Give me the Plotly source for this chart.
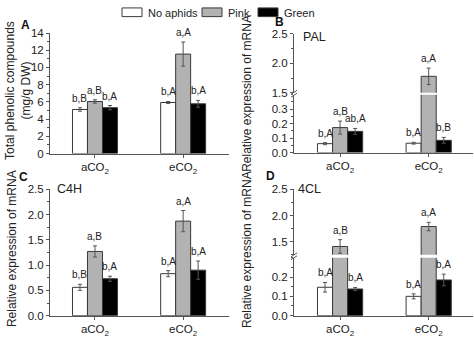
import plotly.graph_objects as go

W, H = 474, 339

# ---- data ----
groups = ["aCO<sub>2</sub>", "eCO<sub>2</sub>"]
series = ["No aphids", "Pink", "Green"]

phenolic = {"No aphids": [5.12, 5.93], "Pink": [6.05, 11.55], "Green": [5.33, 5.78]}
phenolic_err = {"No aphids": [0.2, 0.12], "Pink": [0.2, 1.4], "Green": [0.25, 0.4]}
phenolic_lbl = {"No aphids": ["b,B", "b,A"], "Pink": ["a,B", "a,A"], "Green": ["b,A", "b,A"]}

pal = {"No aphids": [0.062, 0.065], "Pink": [0.173, 1.78], "Green": [0.147, 0.085]}
pal_err = {"No aphids": [0.007, 0.006], "Pink": [0.045, 0.14], "Green": [0.02, 0.02]}
pal_lbl = {"No aphids": ["b,A", "b,A"], "Pink": ["a,B", "a,A"], "Green": ["ab,A", "b,B"]}

c4h = {"No aphids": [0.56, 0.83], "Pink": [1.27, 1.87], "Green": [0.73, 0.90]}
c4h_err = {"No aphids": [0.06, 0.06], "Pink": [0.11, 0.21], "Green": [0.05, 0.18]}
c4h_lbl = {"No aphids": ["b,B", "b,A"], "Pink": ["a,B", "a,A"], "Green": ["b,A", "b,A"]}

cl4 = {"No aphids": [0.147, 0.100], "Pink": [1.41, 1.79], "Green": [0.138, 0.185]}
cl4_err = {"No aphids": [0.025, 0.013], "Pink": [0.13, 0.08], "Green": [0.008, 0.03]}
cl4_lbl = {"No aphids": ["b,A", "b,A"], "Pink": ["a,B", "a,A"], "Green": ["b,A", "b,A"]}

# ---- styles ----
FONT = "Liberation Sans, Arial, sans-serif"
fills = {"No aphids": "#ffffff", "Pink": "#b2b2b2", "Green": "#000000"}
OUTLINE = "#3a3a3a"
AXIS = "#555555"
BAR_W = 0.17
offsets = {"No aphids": -1.5 * BAR_W, "Pink": -0.5 * BAR_W, "Green": 0.5 * BAR_W}


def px_x(p):
    return p / W


def px_y(p):
    return 1 - p / H


fig = go.Figure()
annotations = []
shapes = []


def add_bars(xa, ya, vals, errs, only=None):
    for s in series:
        if only and s not in only:
            continue
        fig.add_trace(go.Bar(
            x=list(range(len(groups))), y=vals[s], width=BAR_W, offset=offsets[s],
            xaxis=xa, yaxis=ya, showlegend=False, name=s,
            marker=dict(color=fills[s], line=dict(color=OUTLINE, width=1)),
            error_y=dict(type="data", array=errs[s], color="#555555", thickness=1, width=2),
        ))


def add_labels(xa, ya_of, vals, errs, lbls):
    for s in series:
        for i in range(len(groups)):
            v = vals[s][i] + errs[s][i]
            annotations.append(dict(
                x=i + offsets[s] + BAR_W / 2, y=v, xref=xa, yref=ya_of(s, i),
                text=lbls[s][i], showarrow=False, xanchor="center", yanchor="bottom", yshift=2,
                font=dict(family=FONT, size=10, color="#222")))


def xaxis_cfg(dom, anchor, rng):
    return dict(domain=[px_x(dom[0]), px_x(dom[1])], anchor=anchor, range=rng,
                tickvals=list(range(len(groups))), ticktext=groups,
                ticks="outside", ticklen=3, tickcolor=AXIS, showline=True,
                linecolor=AXIS, linewidth=1, showgrid=False, zeroline=False,
                tickfont=dict(family=FONT, size=11.5, color="#222"), fixedrange=True)


def yaxis_cfg(top, bot, anchor, rng, tickvals, minor, fmt=None):
    d = dict(domain=[px_y(bot), px_y(top)], anchor=anchor, range=rng,
             tickvals=tickvals, ticks="outside", ticklen=3, tickcolor=AXIS,
             showline=True, linecolor=AXIS, linewidth=1, showgrid=False,
             zeroline=False, tickfont=dict(family=FONT, size=11.5, color="#222"),
             minor=dict(dtick=minor, ticks="outside", ticklen=2, tickcolor=AXIS, showgrid=False))
    if fmt:
        d["tickformat"] = fmt
    return d


# Panel A: total phenolics
add_bars("x", "y", phenolic, phenolic_err)
add_labels("x", lambda s, i: "y", phenolic, phenolic_err, phenolic_lbl)

# Panel B: PAL, broken axis (lower y2, upper y3)
add_bars("x2", "y2", pal, pal_err)
add_bars("x2", "y3", pal, pal_err, only=["Pink"])
add_labels("x2", lambda s, i: "y3" if pal[s][i] > 0.4 else "y2", pal, pal_err, pal_lbl)

# Panel C: C4H
add_bars("x3", "y4", c4h, c4h_err)
add_labels("x3", lambda s, i: "y4", c4h, c4h_err, c4h_lbl)

# Panel D: 4CL, broken axis (lower y5, upper y6)
add_bars("x4", "y5", cl4, cl4_err)
add_bars("x4", "y6", cl4, cl4_err, only=["Pink"])
add_labels("x4", lambda s, i: "y6" if cl4[s][i] > 0.3 else "y5", cl4, cl4_err, cl4_lbl)

fig.update_layout(
    xaxis=xaxis_cfg((50, 229), "y", [-0.51, 1.52]),
    yaxis=yaxis_cfg(28, 153, "x", [0, 14], list(range(0, 15, 2)), 1),
    xaxis2=xaxis_cfg((294, 473), "y2", [-0.52, 1.50]),
    yaxis2=yaxis_cfg(92, 152, "x2", [0, 0.4], [0, 0.1, 0.2, 0.3], 0.05, ".1f"),
    yaxis3=yaxis_cfg(29, 90, "x2", [1.5, 2.5], [1.5, 2.0, 2.5], 0.25, ".1f"),
    xaxis3=xaxis_cfg((50, 229), "y4", [-0.51, 1.52]),
    yaxis4=yaxis_cfg(190, 321, "x3", [0, 2.5], [0, 0.5, 1.0, 1.5, 2.0, 2.5], 0.25, ".1f"),
    xaxis4=xaxis_cfg((294, 473), "y5", [-0.52, 1.50]),
    yaxis5=yaxis_cfg(261, 321, "x4", [0, 0.3], [0, 0.1, 0.2], 0.05, ".1f"),
    yaxis6=yaxis_cfg(190, 258, "x4", [1.25, 2.5], [1.5, 2.0, 2.5], 0.25, ".1f"),
)


def paper_text(x, y, text, size, xanchor="center", angle=0, color="#222"):
    annotations.append(dict(x=px_x(x), y=px_y(y), xref="paper", yref="paper", text=text,
                            textangle=angle, showarrow=False, xanchor=xanchor,
                            yanchor="middle", font=dict(family=FONT, size=size, color=color)))


# axis titles
paper_text(18, 88, "Total phenolic compounds<br>(mg/g DW)", 12, angle=-90)
paper_text(247, 90, "Relative expression of mRNA", 12, angle=-90)
paper_text(12, 252, "Relative expression of mRNA", 12, angle=-90)
paper_text(247, 252, "Relative expression of mRNA", 12, angle=-90)

# panel letters and gene names
for t, x, y in [("A", 25, 20), ("B", 279, 17), ("C", 23, 177), ("D", 270, 176)]:
    paper_text(x, y, f"<b>{t}</b>", 12, color="#111")
for t, x, y in [("PAL", 301, 32), ("C4H", 55, 190), ("4CL", 296, 190)]:
    paper_text(x, y, t, 12.5, xanchor="left")

# axis break marks
for xb, yb in [(294, 91), (294, 259.5)]:
    for dy in (-1.5, 1.5):
        shapes.append(dict(type="line", xref="paper", yref="paper",
                           x0=px_x(xb - 3), y0=px_y(yb + dy + 2), x1=px_x(xb + 3), y1=px_y(yb + dy - 2),
                           line=dict(color=AXIS, width=1)))

# legend
for s, bx, tx in [("No aphids", 122, 146), ("Pink", 202, 226), ("Green", 258, 282)]:
    shapes.append(dict(type="rect", xref="paper", yref="paper",
                       x0=px_x(bx), x1=px_x(bx + 20), y0=px_y(11), y1=px_y(2),
                       fillcolor=fills[s], line=dict(color=OUTLINE, width=1)))
    paper_text(tx, 7, s, 11, xanchor="left")

fig.update_layout(
    width=W, height=H, margin=dict(l=0, r=0, t=0, b=0),
    paper_bgcolor="white", plot_bgcolor="white", barmode="overlay",
    annotations=annotations, shapes=shapes, showlegend=False,
)

fig.write_html("out.html", config={"displayModeBar": False})
